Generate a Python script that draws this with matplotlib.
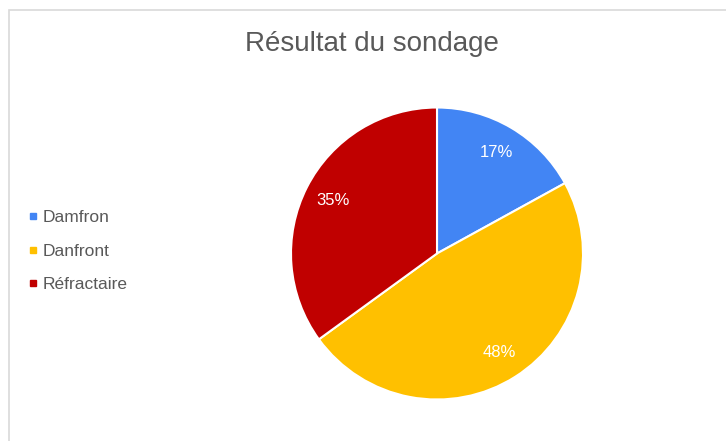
import matplotlib.pyplot as plt
from matplotlib.lines import Line2D
from matplotlib.patches import Rectangle

plt.rcParams['font.family'] = ['Liberation Sans', 'DejaVu Sans']

title = "Résultat du sondage"
categories = ["Damfron", "Danfront", "Réfractaire"]
shares = [17, 48, 35]
colors = ["#4285F4", "#FFC000", "#C00000"]

W, H = 726, 441
fig = plt.figure(figsize=(W / 100, H / 100), dpi=100)

# light chart border (only top and left edges show in the crop)
fig.patches.append(Rectangle((8.5 / W, -0.1), 1.2, 1.1 - 10.5 / H,
                             transform=fig.transFigure, fill=False,
                             edgecolor="#D9D9D9", linewidth=1.2))

cx, cy, r = 437, 253.5, 146
ax = fig.add_axes([(cx - r) / W, (H - cy - r) / H, 2 * r / W, 2 * r / H])
wedges, texts, autotexts = ax.pie(
    shares, colors=colors, startangle=90, counterclock=False,
    autopct="%1.0f%%", pctdistance=0.8,
    wedgeprops=dict(edgecolor="white", linewidth=1.5),
    textprops=dict(color="white", fontsize=12))
ax.set_xlim(-1, 1)
ax.set_ylim(-1, 1)
ax.set_aspect("equal")
ax.axis("off")

fig.text(372 / W, 1 - 44 / H, title, ha="center", va="center",
         fontsize=20, color="#595959")

handles = [Line2D([], [], linestyle="none", marker="s", markersize=5,
                  markerfacecolor=c, markeredgecolor=c) for c in colors]
fig.legend(handles, categories, loc="center left",
           bbox_to_anchor=(28 / W, 1 - 251 / H), frameon=False,
           borderaxespad=0, borderpad=0,
           fontsize=12.5, labelcolor="#595959", handlelength=0.6,
           handletextpad=0.27, labelspacing=1.05)

fig.savefig("out.png", dpi=100)
